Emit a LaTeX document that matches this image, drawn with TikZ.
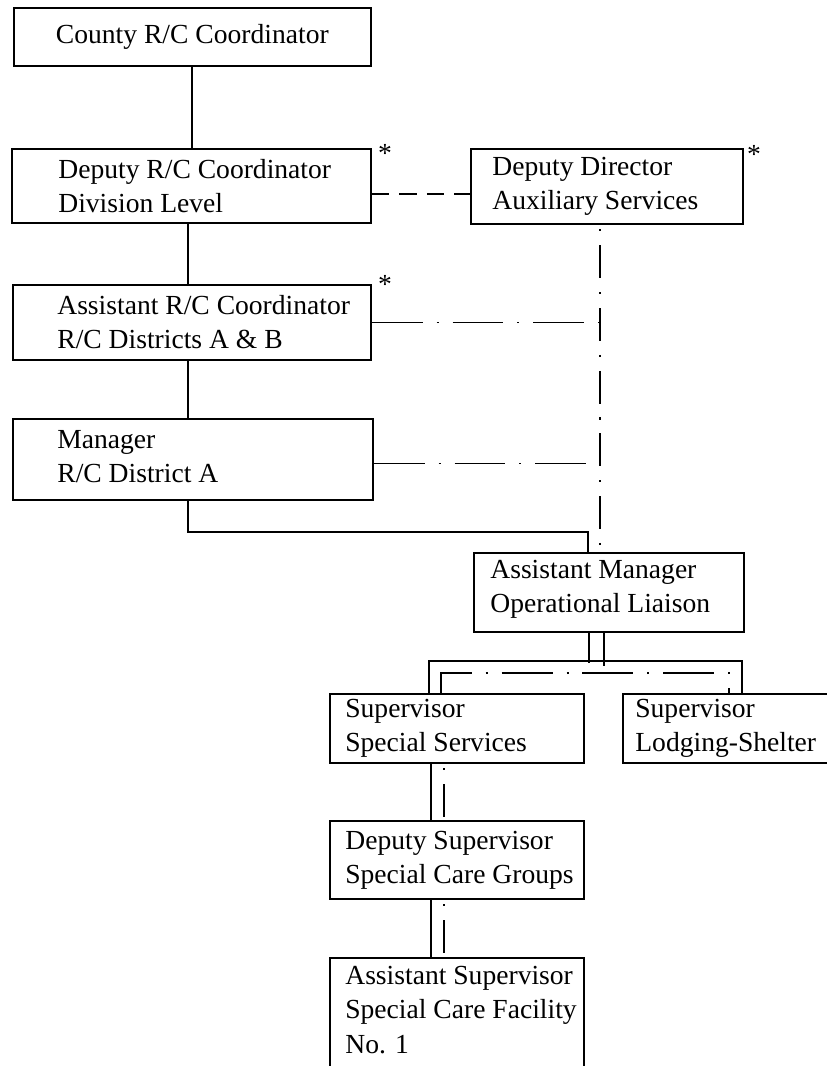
\documentclass[tikz,border=0pt]{standalone}
\usepackage{fontspec}
\setmainfont{Liberation Serif}
\usetikzlibrary{positioning, calc}
\newcommand{\chartfont}{\fontsize{15.7}{19.4}\selectfont}

\begin{document}
\begin{tikzpicture}[x = 0.02cm, y = -0.02cm,
    box/.style = {draw, line width = 1pt, inner sep = 0pt, anchor = north west, font = \chartfont},
    boxtext/.style = {anchor = west, align = left, inner sep = 0pt, font = \chartfont},
    asterisk/.style = {inner sep = 0pt, font = \chartfont},
    link/.style = {line width = 1pt},
    dashlink/.style = {line width = 1pt, dash pattern = on 10pt off 5.7pt},
    staffv/.style = {line width = 1pt, dash pattern = on 18.7pt off 7.9pt on 1.2pt off 7.9pt},
    staffh/.style = {line width = 1pt, dash pattern = on 29pt off 7.9pt on 1.2pt off 7.9pt}]
    \useasboundingbox (0,0) rectangle (827,1066);
    \clip (0,0) rectangle (827,1066);

    % line organisation, left column
    \node[box, minimum width = 7.14cm, minimum height = 1.16cm] (county) at (13,7) {County R/C Coordinator};
    \node[box, minimum width = 7.18cm, minimum height = 1.48cm] (deputy) at (11,148) {};
    \node[boxtext] (deputy-t) at ($(deputy.west)+(47,0)$) {Deputy R/C Coordinator\\Division Level};
    \node[box, minimum width = 7.16cm, minimum height = 1.50cm] (assistant) at (12,284) {};
    \node[boxtext] (assistant-t) at ($(assistant.west)+(45,0)$) {Assistant R/C Coordinator\\R/C Districts A \& B};
    \node[box, minimum width = 7.20cm, minimum height = 1.62cm] (manager) at (12,418) {};
    \node[boxtext] (manager-t) at ($(manager.west)+(45,-3)$) {Manager\\R/C District A};

    % auxiliary services
    \node[box, minimum width = 5.44cm, minimum height = 1.50cm] (director) at (470,148) {};
    \node[boxtext] (director-t) at ($(director.west)+(22,0)$) {Deputy Director\\Auxiliary Services};
    \node[box, minimum width = 5.40cm, minimum height = 1.58cm] (liaison) at (473,552) {};
    \node[boxtext] (liaison-t) at ($(liaison.west)+(17,-3)$) {Assistant Manager\\Operational Liaison};

    % supervisors
    \node[box, minimum width = 5.08cm, minimum height = 1.38cm] (special) at (329,693) {};
    \node[boxtext] (special-t) at ($(special.west)+(16,0)$) {Supervisor\\Special Services};
    \node[box, minimum width = 6.00cm, minimum height = 1.38cm] (lodging) at (622,693) {};
    \node[boxtext] (lodging-t) at ($(lodging.west)+(13,0)$) {Supervisor\\Lodging-Shelter};
    \node[box, minimum width = 5.08cm, minimum height = 1.56cm] (groups) at (329,820) {};
    \node[boxtext] (groups-t) at ($(groups.west)+(16,0)$) {Deputy Supervisor\\Special Care Groups};
    \node[box, minimum width = 5.08cm, minimum height = 2.20cm] (facility) at (329,957) {};
    \node[boxtext] (facility-t) at ($(facility.north west)+(16,53)$) {Assistant Supervisor\\Special Care Facility\\No. 1};

    % asterisks
    \node[asterisk] (ast-deputy) at (385,153) {*};
    \node[asterisk] (ast-assistant) at (385,284) {*};
    \node[asterisk] (ast-director) at (754,154) {*};

    % solid lines
    \draw[link] (county.south) -- (county.south |- deputy.north);
    \draw[link] ($(deputy.south)+(-3,0)$) coordinate (d1) -- (d1 |- assistant.north);
    \draw[link] ($(assistant.south)+(-4,0)$) coordinate (a1) -- (a1 |- manager.north);
    \draw[link] ($(manager.south)+(-5,0)$) -- ++(0,31) -| ($(liaison.north)+(-21,0)$);
    \draw[link] ($(liaison.south)+(-20,0)$) -- ++(0,30);
    \draw[link] ($(special.north)+(-28,0)$) -- ++(0,-32) -| ($(lodging.north west)+(120,0)$);
    \draw[link] ($(special.south)+(-26,0)$) coordinate (s1) -- (s1 |- groups.north);
    \draw[link] ($(groups.south)+(-26,0)$) coordinate (g1) -- (g1 |- facility.north);

    % dashed and dash-dot lines
    \draw[dashlink] ($(deputy.east)+(0,8)$) coordinate (d2) -- (d2 -| director.west);
    \coordinate (spine) at ($(director.south)+(-7,0)$);
    \draw[staffv, dash phase = 24pt] (spine) -- (spine |- liaison.north);
    \draw[staffh] (assistant.east) -- (assistant.east -| spine);
    \draw[staffh] ($(manager.east)+(0,4)$) coordinate (m2) -- (m2 -| spine);
    \draw[staffv] ($(liaison.south)+(-5,0)$) -- ++(0,42);
    \draw[staffh] ($(special.north)+(-16,0)$) -- ++(0,-20) -| ($(lodging.north west)+(107,0)$);
    \draw[staffv, dash phase = 24pt] ($(special.south)+(-13,0)$) coordinate (s2) -- (s2 |- groups.north);
    \draw[staffv, dash phase = 24pt] ($(groups.south)+(-13,0)$) coordinate (g2) -- (g2 |- facility.north);
\end{tikzpicture}
\end{document}
